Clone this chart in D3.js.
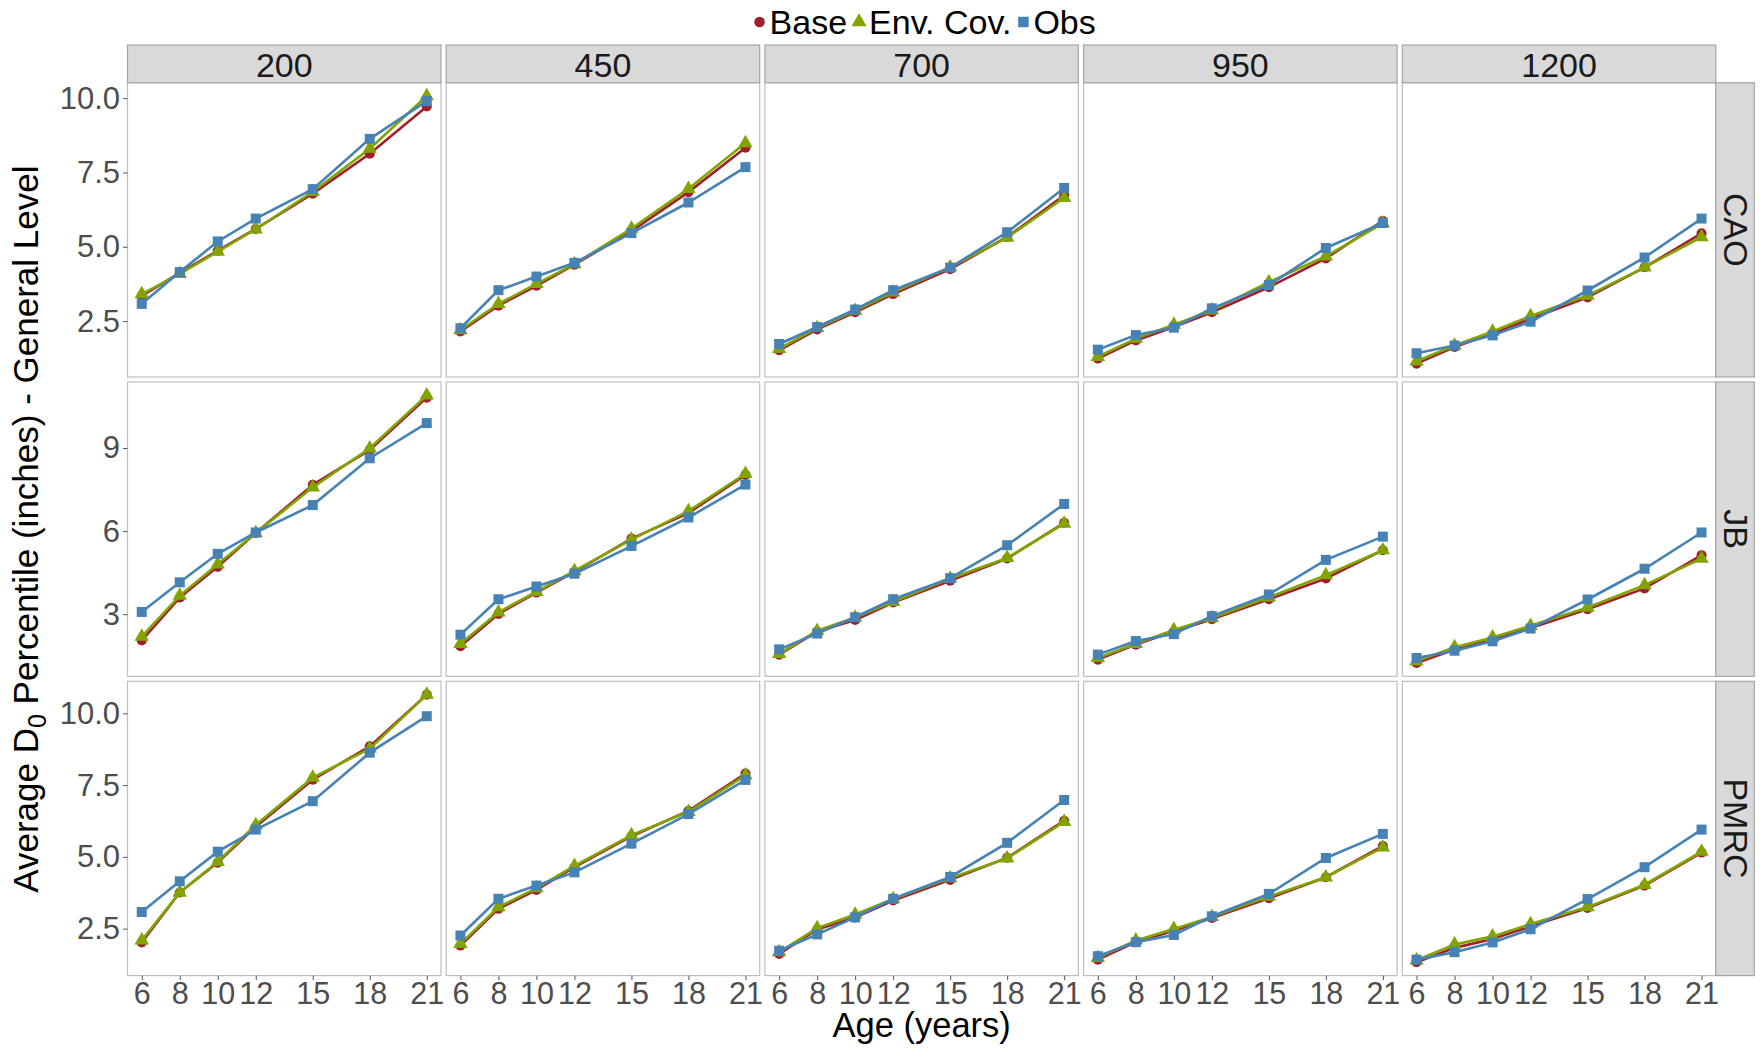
<!DOCTYPE html>
<html>
<head>
<meta charset="utf-8">
<script src="https://cdn.jsdelivr.net/npm/d3@7"></script>
<style>
  html, body { margin: 0; padding: 0; background: #fff; }
  svg { display: block; font-family: "Liberation Sans", Arial, sans-serif; }
</style>
</head>
<body>
<svg id="chart" width="1761" height="1048"></svg>
<script>
// Ages at which D0 percentiles are reported
const ages = [6, 8, 10, 12, 15, 18, 21];
// Column facets (plot size) and row facets (method)
const plotSizes = ["200", "450", "700", "950", "1200"];
const methods = ["CAO", "JB", "PMRC"];
const seriesNames = ["Base", "Env. Cov.", "Obs"];

// Observed values, one array per plot size (same for every method)
const obsValues = [
  [3.08, 4.15, 5.18, 5.95, 6.94, 8.63, 9.90],
  [2.26, 3.54, 4.00, 4.46, 5.46, 6.49, 7.68],
  [1.73, 2.30, 2.89, 3.54, 4.30, 5.49, 6.98],
  [1.54, 2.03, 2.28, 2.93, 3.71, 4.96, 5.80],
  [1.42, 1.68, 2.02, 2.48, 3.53, 4.64, 5.95]
];

// CAO predictions
const baseCAO = [
  [3.35, 4.12, 4.87, 5.60, 6.79, 8.13, 9.72],
  [2.15, 3.02, 3.69, 4.40, 5.53, 6.84, 8.33],
  [1.52, 2.22, 2.80, 3.41, 4.25, 5.33, 6.73],
  [1.24, 1.85, 2.30, 2.80, 3.64, 4.61, 5.87],
  [1.07, 1.63, 2.08, 2.58, 3.30, 4.31, 5.45]
];
const envCAO = [
  [3.41, 4.09, 4.84, 5.59, 6.85, 8.30, 10.07],
  [2.20, 3.08, 3.75, 4.42, 5.61, 6.95, 8.49],
  [1.57, 2.27, 2.85, 3.47, 4.31, 5.31, 6.65],
  [1.30, 1.91, 2.38, 2.86, 3.81, 4.68, 5.79],
  [1.15, 1.68, 2.15, 2.67, 3.36, 4.31, 5.33]
];

// JB predictions
const baseJB = [
  [2.05, 3.60, 4.71, 5.93, 7.67, 8.93, 10.82],
  [1.84, 3.01, 3.78, 4.53, 5.73, 6.65, 8.03],
  [1.54, 2.37, 2.79, 3.42, 4.21, 5.01, 6.30],
  [1.36, 1.90, 2.37, 2.82, 3.54, 4.29, 5.31],
  [1.24, 1.72, 2.08, 2.50, 3.18, 3.93, 5.13]
];
const envJB = [
  [2.19, 3.67, 4.80, 5.93, 7.58, 8.99, 10.90],
  [1.93, 3.07, 3.81, 4.56, 5.69, 6.72, 8.07],
  [1.57, 2.40, 2.88, 3.45, 4.29, 5.03, 6.27],
  [1.42, 1.93, 2.43, 2.86, 3.61, 4.41, 5.31],
  [1.30, 1.81, 2.16, 2.58, 3.24, 4.05, 5.01]
];

// PMRC predictions
const basePMRC = [
  [2.02, 3.76, 4.80, 6.05, 7.69, 8.85, 10.65],
  [1.91, 3.19, 3.85, 4.64, 5.72, 6.60, 7.90],
  [1.62, 2.47, 2.89, 3.48, 4.20, 4.97, 6.26],
  [1.42, 2.03, 2.43, 2.87, 3.56, 4.29, 5.38],
  [1.33, 1.83, 2.14, 2.58, 3.22, 4.00, 5.15]
];
const envPMRC = [
  [2.09, 3.76, 4.83, 6.11, 7.76, 8.77, 10.65],
  [1.97, 3.25, 3.91, 4.69, 5.76, 6.57, 7.84],
  [1.68, 2.52, 2.99, 3.53, 4.26, 4.95, 6.22],
  [1.48, 2.09, 2.49, 2.91, 3.62, 4.29, 5.33],
  [1.40, 1.95, 2.23, 2.66, 3.25, 4.03, 5.18]
];

// y-axis ticks per method row
const yTicksCAO = [2.5, 5.0, 7.5, 10.0];
const yTicksJB = [3, 6, 9];
const yTicksPMRC = [2.5, 5.0, 7.5, 10.0];
const yTickLabelsCAO = ["2.5", "5.0", "7.5", "10.0"];
const yTickLabelsJB = ["3", "6", "9"];
const yTickLabelsPMRC = ["2.5", "5.0", "7.5", "10.0"];

const rowData = [
  { base: baseCAO, env: envCAO, ticks: yTicksCAO, labels: yTickLabelsCAO },
  { base: baseJB, env: envJB, ticks: yTicksJB, labels: yTickLabelsJB },
  { base: basePMRC, env: envPMRC, ticks: yTicksPMRC, labels: yTickLabelsPMRC }
];

// ---- layout ----
const panelLeft = 127.5, panelW = 313.5, colStep = 318.7;
const panelTop = 82.7, panelH = 294.3, rowStep = 299.3;
const stripTop = 45, stripH = panelTop - stripTop;
const rightStripW = 38.5;

const colors = { "Base": "#A11E2C", "Env. Cov.": "#82A400", "Obs": "#4682B4" };
const symbolType = { "Base": d3.symbolCircle, "Env. Cov.": d3.symbolTriangle, "Obs": d3.symbolSquare };
const symbolSize = { "Base": 80, "Env. Cov.": 90, "Obs": 100 };

const svg = d3.select("#chart");

const x = d3.scaleLinear()
  .domain([6 - 0.05 * 15, 21 + 0.05 * 15])
  .range([0, panelW]);

const line = d3.line();

rowData.forEach((row, ri) => {
  // free y scale per row, 5% expansion
  const all = [].concat(...row.base, ...row.env, ...obsValues);
  const lo = d3.min(all), hi = d3.max(all);
  const pad = (hi - lo) * 0.05;
  const y = d3.scaleLinear().domain([lo - pad, hi + pad]).range([panelH, 0]);
  const top = panelTop + ri * rowStep;

  plotSizes.forEach((size, ci) => {
    const left = panelLeft + ci * colStep;
    const g = svg.append("g").attr("transform", `translate(${left},${top})`);

    g.append("rect")
      .attr("width", panelW).attr("height", panelH)
      .attr("fill", "#fff").attr("stroke", "#BEBEBE").attr("stroke-width", 1.2);

    const seriesValues = {
      "Base": row.base[ci],
      "Env. Cov.": row.env[ci],
      "Obs": obsValues[ci]
    };

    seriesNames.forEach(name => {
      const pts = ages.map((a, i) => [x(a), y(seriesValues[name][i])]);
      g.append("path")
        .attr("d", line(pts))
        .attr("fill", "none")
        .attr("stroke", colors[name])
        .attr("stroke-width", 2.6);
      g.selectAll(null).data(pts).enter().append("path")
        .attr("transform", d => `translate(${d[0]},${d[1]})`)
        .attr("d", d3.symbol().type(symbolType[name]).size(symbolSize[name]))
        .attr("fill", colors[name]);
    });

    // y axis on first column
    if (ci === 0) {
      const ax = g.append("g").call(
        d3.axisLeft(y).tickValues(row.ticks)
          .tickFormat((d, i) => row.labels[i])
          .tickSize(4.5).tickPadding(3)
      );
      ax.select(".domain").remove();
      ax.selectAll(".tick line").attr("stroke", "#555").attr("stroke-width", 1);
      ax.selectAll(".tick text")
        .attr("fill", "#4D4D4D")
        .style("font-size", "31px")
        .style("font-family", "Liberation Sans, Arial, sans-serif");
    }

    // x axis on bottom row
    if (ri === rowData.length - 1) {
      const ax = g.append("g").attr("transform", `translate(0,${panelH})`).call(
        d3.axisBottom(x).tickValues(ages).tickFormat(d3.format("d"))
          .tickSize(4.5).tickPadding(2)
      );
      ax.select(".domain").remove();
      ax.selectAll(".tick line").attr("stroke", "#555").attr("stroke-width", 1);
      ax.selectAll(".tick text")
        .attr("fill", "#4D4D4D")
        .style("font-size", "30.5px")
        .style("font-family", "Liberation Sans, Arial, sans-serif");
    }

    // column strip on top row
    if (ri === 0) {
      const s = svg.append("g").attr("transform", `translate(${left},${stripTop})`);
      s.append("rect").attr("width", panelW).attr("height", stripH)
        .attr("fill", "#D9D9D9").attr("stroke", "#A6A6A6").attr("stroke-width", 1.2);
      s.append("text")
        .attr("x", panelW / 2).attr("y", stripH / 2 + 1)
        .attr("text-anchor", "middle").attr("dominant-baseline", "central")
        .attr("fill", "#1A1A1A").style("font-size", "34px")
        .text(size);
    }
  });

  // row strip on the right
  const rx = panelLeft + 4 * colStep + panelW;
  const rs = svg.append("g").attr("transform", `translate(${rx},${top})`);
  rs.append("rect").attr("width", rightStripW).attr("height", panelH)
    .attr("fill", "#D9D9D9").attr("stroke", "#A6A6A6").attr("stroke-width", 1.2);
  rs.append("text")
    .attr("transform", `translate(${rightStripW / 2 + 1},${panelH / 2}) rotate(90)`)
    .attr("text-anchor", "middle").attr("dominant-baseline", "central")
    .attr("fill", "#1A1A1A").style("font-size", "34px")
    .text(methods[ri]);
});

// ---- axis titles ----
const plotCenterX = panelLeft + (4 * colStep + panelW) / 2;
const plotCenterY = panelTop + (2 * rowStep + panelH) / 2;

svg.append("text")
  .attr("x", plotCenterX).attr("y", 1037)
  .attr("text-anchor", "middle")
  .attr("fill", "#000").style("font-size", "34.5px")
  .text("Age (years)");

const yTitle = svg.append("text")
  .attr("transform", `translate(38,${plotCenterY}) rotate(-90)`)
  .attr("text-anchor", "middle")
  .attr("fill", "#000").style("font-size", "35px");
yTitle.append("tspan").text("Average D");
yTitle.append("tspan").attr("dy", 8).style("font-size", "25px").text("0");
yTitle.append("tspan").attr("dy", -8).text(" Percentile (inches) - General Level");

// ---- legend ----
const legend = svg.append("g");
let lx = 0;
seriesNames.forEach(name => {
  const item = legend.append("g").attr("transform", `translate(${lx},0)`);
  item.append("path")
    .attr("transform", "translate(6,0)")
    .attr("d", d3.symbol().type(symbolType[name]).size(symbolSize[name] * 1.1))
    .attr("fill", colors[name]);
  const t = item.append("text")
    .attr("x", 16).attr("y", 0)
    .attr("dominant-baseline", "central")
    .attr("fill", "#000").style("font-size", "34px")
    .text(name);
  lx += 16 + t.node().getComputedTextLength() + 6;
});
legend.attr("transform", `translate(${plotCenterX - (lx - 6) / 2 + 3},${22})`);
</script>
</body>
</html>
